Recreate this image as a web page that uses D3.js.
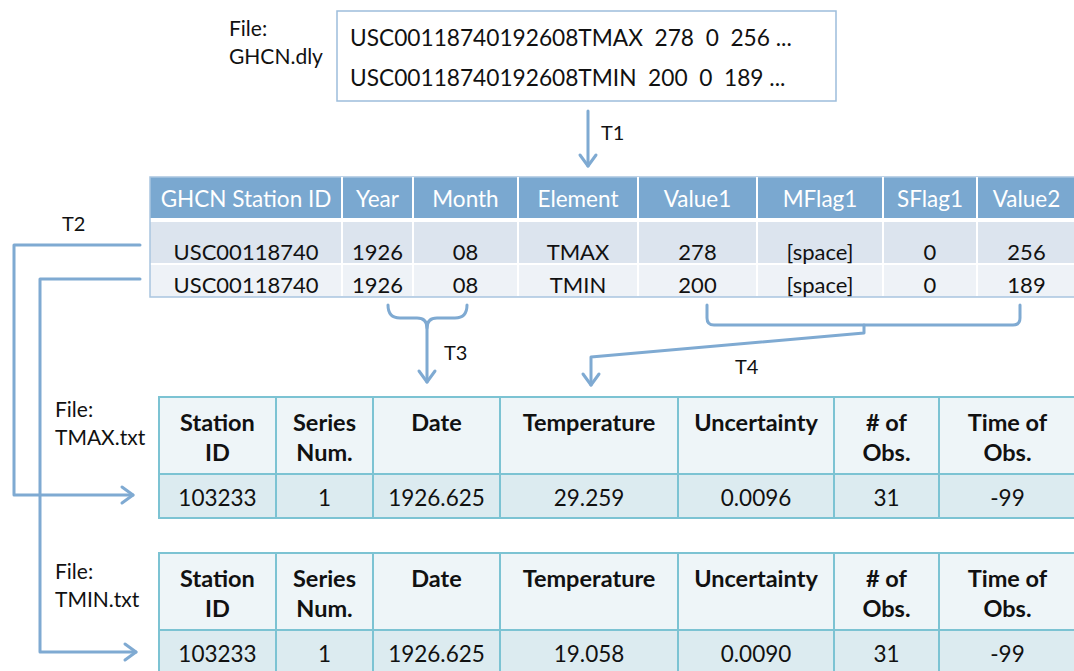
<!DOCTYPE html>
<html>
<head>
<meta charset="utf-8">
<script src="https://cdn.jsdelivr.net/npm/d3@7"></script>
<style>
  body { margin: 0; background: #fff; }
  svg { display: block; }
  text { font-family: Lato, "Open Sans", sans-serif; }
</style>
</head>
<body>
<div id="chart"></div>
<script>
// données du schéma
const fileLines = ["USC00118740192608TMAX  278  0  256 ...", "USC00118740192608TMIN  200  0  189 ..."];
const ghcnHeaders = ["GHCN Station ID", "Year", "Month", "Element", "Value1", "MFlag1", "SFlag1", "Value2"];
const ghcnRows = [
  ["USC00118740", "1926", "08", "TMAX", "278", "[space]", "0", "256"],
  ["USC00118740", "1926", "08", "TMIN", "200", "[space]", "0", "189"]
];
const outHeaders = [["Station", "ID"], ["Series", "Num."], ["Date"], ["Temperature"], ["Uncertainty"], ["# of", "Obs."], ["Time of", "Obs."]];
const tmaxRow = ["103233", "1", "1926.625", "29.259", "0.0096", "31", "-99"];
const tminRow = ["103233", "1", "1926.625", "19.058", "0.0090", "31", "-99"];
const stepLabels = ["T1", "T2", "T3", "T4"];

// mise en page
const width = 1074, height = 671;
const lineColor = "#7faad2";
const ghcnEdges = [150, 342, 413, 518, 638, 757, 883, 977, 1076];
const outEdges = [159, 276, 373, 500, 678, 834, 939, 1076];

const svg = d3.select("#chart").append("svg")
  .attr("width", width)
  .attr("height", height);

// fichier GHCN.dly
svg.append("rect")
  .attr("x", 337).attr("y", 11).attr("width", 499).attr("height", 90)
  .attr("fill", "#fff").attr("stroke", "#9dbddb").attr("stroke-width", 1.5);

svg.selectAll(".fileline").data(fileLines).join("text")
  .attr("x", 350)
  .attr("y", (d, i) => 37 + i * 40)
  .attr("dominant-baseline", "central")
  .style("white-space", "pre")
  .style("font-size", "22.7px")
  .attr("fill", "#111")
  .text(d => d);

function fileLabel(x, y, name) {
  const g = svg.append("g").style("font-size", "21px").attr("fill", "#111");
  g.append("text").attr("x", x).attr("y", y).attr("dominant-baseline", "central").text("File:");
  g.append("text").attr("x", x).attr("y", y + 28).attr("dominant-baseline", "central").text(name);
}
fileLabel(229, 27, "GHCN.dly");
fileLabel(55, 408, "TMAX.txt");
fileLabel(55, 570, "TMIN.txt");

// table GHCN
const ghcn = svg.append("g");
const hTop = 177, hBot = 218, r1Top = 222, r1Bot = 263, r2Bot = 297;
const gx0 = ghcnEdges[0], gw = ghcnEdges[ghcnEdges.length - 1] - ghcnEdges[0];

ghcn.append("rect").attr("x", gx0).attr("y", hTop).attr("width", gw).attr("height", hBot - hTop)
  .attr("fill", "#7aa8d0");
ghcn.append("rect").attr("x", gx0).attr("y", r1Top).attr("width", gw).attr("height", r1Bot - r1Top)
  .attr("fill", "#dce4ee");
ghcn.append("rect").attr("x", gx0).attr("y", r1Bot + 2).attr("width", gw).attr("height", r2Bot - r1Bot - 2)
  .attr("fill", "#eef2f7");
ghcn.append("rect").attr("x", gx0).attr("y", hTop).attr("width", gw).attr("height", r2Bot - hTop)
  .attr("fill", "none").attr("stroke", "#a9c5e0").attr("stroke-width", 1.5);

ghcn.selectAll(".sep").data(ghcnEdges.slice(1, -1)).join("line")
  .attr("x1", d => d).attr("x2", d => d)
  .attr("y1", hTop).attr("y2", r2Bot - 1)
  .attr("stroke", "#fff").attr("stroke-width", 2);

const colMid = (edges, i) => (edges[i] + edges[i + 1]) / 2;

ghcn.selectAll(".hd").data(ghcnHeaders).join("text")
  .attr("x", (d, i) => colMid(ghcnEdges, i))
  .attr("y", 198)
  .attr("text-anchor", "middle").attr("dominant-baseline", "central")
  .style("font-size", "22.5px").attr("fill", "#fff")
  .text(d => d);

ghcnRows.forEach((row, r) => {
  ghcn.selectAll(".row" + r).data(row).join("text")
    .attr("x", (d, i) => colMid(ghcnEdges, i))
    .attr("y", r === 0 ? 251 : 284)
    .attr("text-anchor", "middle").attr("dominant-baseline", "central")
    .style("font-size", "22px").attr("fill", "#111")
    .text(d => d);
});

// tables de sortie
function outTable(top, row) {
  const g = svg.append("g");
  const headBot = top + 77, rowBot = headBot + 44;
  const x0 = outEdges[0], w = outEdges[outEdges.length - 1] - x0;
  g.append("rect").attr("x", x0).attr("y", top).attr("width", w).attr("height", headBot - top)
    .attr("fill", "#eef5f8");
  g.append("rect").attr("x", x0).attr("y", headBot).attr("width", w).attr("height", rowBot - headBot)
    .attr("fill", "#dcebf0");
  g.append("rect").attr("x", x0).attr("y", top).attr("width", w).attr("height", rowBot - top)
    .attr("fill", "none").attr("stroke", "#7cc3d3").attr("stroke-width", 2);
  g.append("line").attr("x1", x0).attr("x2", x0 + w).attr("y1", headBot).attr("y2", headBot)
    .attr("stroke", "#7cc3d3").attr("stroke-width", 2);
  g.selectAll(".sep").data(outEdges.slice(1, -1)).join("line")
    .attr("x1", d => d).attr("x2", d => d)
    .attr("y1", top).attr("y2", rowBot)
    .attr("stroke", "#7cc3d3").attr("stroke-width", 2);

  outHeaders.forEach((lines, i) => {
    g.selectAll(".h" + i).data(lines).join("text")
      .attr("x", colMid(outEdges, i))
      .attr("y", (d, j) => top + 25 + j * 30)
      .attr("text-anchor", "middle").attr("dominant-baseline", "central")
      .style("font-size", "23.5px").style("font-weight", "bold").attr("fill", "#111")
      .text(d => d);
  });
  g.selectAll(".cell").data(row).join("text")
    .attr("x", (d, i) => colMid(outEdges, i))
    .attr("y", headBot + 23)
    .attr("text-anchor", "middle").attr("dominant-baseline", "central")
    .style("font-size", "22.5px").attr("fill", "#111")
    .text(d => d);
}
outTable(397, tmaxRow);
outTable(553, tminRow);

// flèches
const arrows = svg.append("g")
  .attr("fill", "none").attr("stroke", lineColor)
  .attr("stroke-width", 3).attr("stroke-linejoin", "round").attr("stroke-linecap", "round");

function headDown(x, y) {
  arrows.append("path").attr("d", `M${x - 8},${y - 11}L${x},${y}L${x + 8},${y - 11}`);
}
function headRight(x, y) {
  arrows.append("path").attr("d", `M${x - 11},${y - 8}L${x},${y}L${x - 11},${y + 8}`);
}

// T1
arrows.append("path").attr("d", "M588,111V166");
headDown(588, 166);

// T2
arrows.append("path").attr("d", "M140,245H14V495H133");
headRight(133, 495);
arrows.append("path").attr("d", "M140,279H40V652H136");
headRight(136, 652);

// T3
arrows.append("path").attr("d", "M388,305Q388,318 400,318H417Q427,318 427,328Q427,318 437,318H455Q467,318 467,305");
arrows.append("path").attr("d", "M427,326V382");
headDown(427, 382);

// T4
arrows.append("path").attr("d", "M707,305V318Q707,325 714,325H1013Q1020,325 1020,318V305");
arrows.append("path").attr("d", "M864,325V333L591,357V385");
headDown(591, 385);

const labelPos = [[601, 132], [62, 223], [444, 352], [735, 366]];
svg.selectAll(".step").data(stepLabels).join("text")
  .attr("x", (d, i) => labelPos[i][0])
  .attr("y", (d, i) => labelPos[i][1])
  .attr("dominant-baseline", "central")
  .style("font-size", "20px").attr("fill", "#111")
  .text(d => d);
</script>
</body>
</html>
